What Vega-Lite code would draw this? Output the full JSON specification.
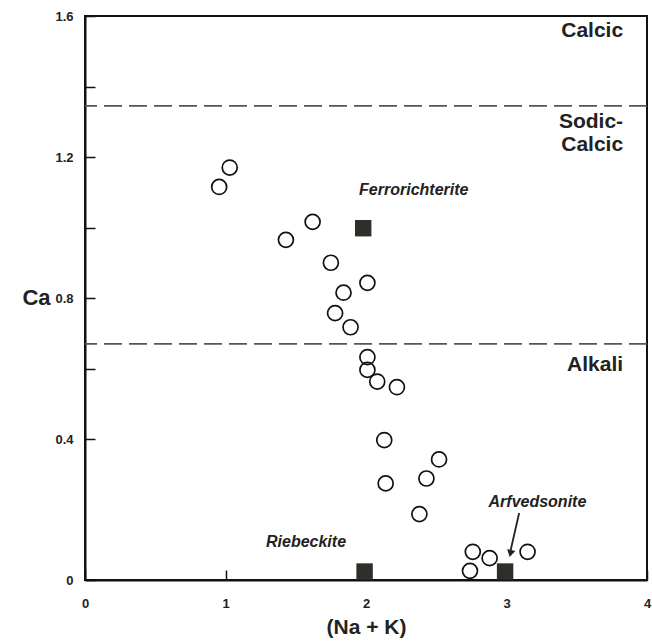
{
  "$schema": "https://vega.github.io/schema/vega-lite/v6.json",
  "autosize": {"type": "none"},
  "padding": {"left": 85, "top": 16, "right": 5, "bottom": 61},
  "width": 562,
  "height": 564,
  "background": "white",
  "config": {
    "view": {"stroke": "#111", "strokeWidth": 2},
    "font": "Liberation Sans",
    "axis": {
      "grid": false,
      "domainColor": "#111",
      "domainWidth": 2,
      "tickColor": "#111",
      "tickWidth": 1.5,
      "tickSize": -10,
      "labelFont": "Liberation Sans",
      "labelFontWeight": "bold",
      "labelFontSize": 13,
      "labelColor": "#222",
      "labelOverlap": false,
      "labelFlush": false,
      "titleFont": "Liberation Sans",
      "titleFontWeight": "bold",
      "titleColor": "#222"
    }
  },
  "datasets": {
    "samples": [
      {"na_k": 0.955, "ca": 1.115},
      {"na_k": 1.03, "ca": 1.17},
      {"na_k": 1.43, "ca": 0.965},
      {"na_k": 1.62, "ca": 1.016},
      {"na_k": 1.75, "ca": 0.9},
      {"na_k": 2.01, "ca": 0.843},
      {"na_k": 1.84, "ca": 0.815},
      {"na_k": 1.78, "ca": 0.757},
      {"na_k": 1.89, "ca": 0.717},
      {"na_k": 2.01, "ca": 0.632},
      {"na_k": 2.01, "ca": 0.596},
      {"na_k": 2.08, "ca": 0.563},
      {"na_k": 2.22, "ca": 0.547},
      {"na_k": 2.13, "ca": 0.397},
      {"na_k": 2.52, "ca": 0.342},
      {"na_k": 2.43, "ca": 0.288},
      {"na_k": 2.14, "ca": 0.274},
      {"na_k": 2.38, "ca": 0.187},
      {"na_k": 2.76, "ca": 0.08},
      {"na_k": 2.74, "ca": 0.026},
      {"na_k": 2.88, "ca": 0.062},
      {"na_k": 3.15, "ca": 0.08}
    ],
    "endmembers": [
      {"name": "Ferrorichterite", "na_k": 1.98, "ca": 0.998, "lx": 2.34, "ly": 1.106},
      {"name": "Riebeckite", "na_k": 1.99, "ca": 0.024, "lx": 1.573, "ly": 0.108},
      {"name": "Arfvedsonite", "na_k": 2.99, "ca": 0.024, "lx": 3.22, "ly": 0.222}
    ],
    "boundaries": [{"ca": 1.345}, {"ca": 0.67}],
    "fields": [
      {"label": "Calcic", "x": 3.83, "y": 1.557},
      {"label": "Sodic-", "x": 3.83, "y": 1.30},
      {"label": "Calcic", "x": 3.83, "y": 1.234},
      {"label": "Alkali", "x": 3.83, "y": 0.61}
    ],
    "arrow": [{"x1": 3.09, "y1": 0.19, "x2": 3.03, "y2": 0.085, "tx": 3.028, "ty": 0.075}]
  },
  "encoding": {
    "x": {
      "field": "na_k", "type": "quantitative",
      "scale": {"domain": [0, 4], "nice": false, "zero": false},
      "axis": {
        "values": [0, 1, 2, 3, 4],
        "format": "d",
        "labelPadding": 27,
        "title": "(Na + K)",
        "titleFontSize": 21,
        "titleY": 47,
        "titleBaseline": "middle"
      }
    },
    "y": {
      "field": "ca", "type": "quantitative",
      "scale": {"domain": [0, 1.6], "nice": false, "zero": false},
      "axis": {
        "values": [0, 0.4, 0.6, 0.8, 1.0, 1.2, 1.4, 1.6],
        "format": ".1~f",
        "labelExpr": "(datum.value == 0.6 || datum.value == 1 || datum.value == 1.4) ? '' : datum.label",
        "labelPadding": 22,
        "title": "Ca",
        "titleFontSize": 22,
        "titleAngle": 0,
        "titleAlign": "center",
        "titleBaseline": "middle",
        "titleX": -49,
        "titleY": 281
      }
    }
  },
  "layer": [
    {
      "data": {"name": "boundaries"},
      "mark": {"type": "rule", "color": "#555", "strokeWidth": 1.6, "strokeDash": [18, 7]},
      "encoding": {"x": null, "y": {"field": "ca", "type": "quantitative"}}
    },
    {
      "data": {"name": "samples"},
      "mark": {"type": "point", "shape": "circle", "filled": false, "stroke": "#111", "strokeWidth": 1.7, "size": 225, "opacity": 1}
    },
    {
      "data": {"name": "endmembers"},
      "mark": {"type": "point", "shape": "square", "filled": true, "color": "#2e2e2a", "size": 270, "opacity": 1}
    },
    {
      "data": {"name": "endmembers"},
      "mark": {"type": "text", "font": "Liberation Sans", "fontWeight": "bold", "fontStyle": "italic", "fontSize": 16, "color": "#222", "align": "center", "baseline": "middle"},
      "encoding": {
        "x": {"field": "lx", "type": "quantitative"},
        "y": {"field": "ly", "type": "quantitative"},
        "text": {"field": "name"}
      }
    },
    {
      "data": {"name": "fields"},
      "mark": {"type": "text", "font": "Liberation Sans", "fontWeight": "bold", "fontSize": 21, "color": "#222", "align": "right", "baseline": "middle"},
      "encoding": {
        "x": {"field": "x", "type": "quantitative"},
        "y": {"field": "y", "type": "quantitative"},
        "text": {"field": "label"}
      }
    },
    {
      "data": {"name": "arrow"},
      "mark": {"type": "rule", "color": "#222", "strokeWidth": 1.8},
      "encoding": {
        "x": {"field": "x1", "type": "quantitative"},
        "y": {"field": "y1", "type": "quantitative"},
        "x2": {"field": "x2"},
        "y2": {"field": "y2"}
      }
    },
    {
      "data": {"name": "arrow"},
      "mark": {"type": "point", "shape": "triangle-down", "filled": true, "color": "#222", "size": 70, "angle": 13, "opacity": 1},
      "encoding": {
        "x": {"field": "tx", "type": "quantitative"},
        "y": {"field": "ty", "type": "quantitative"}
      }
    }
  ]
}
